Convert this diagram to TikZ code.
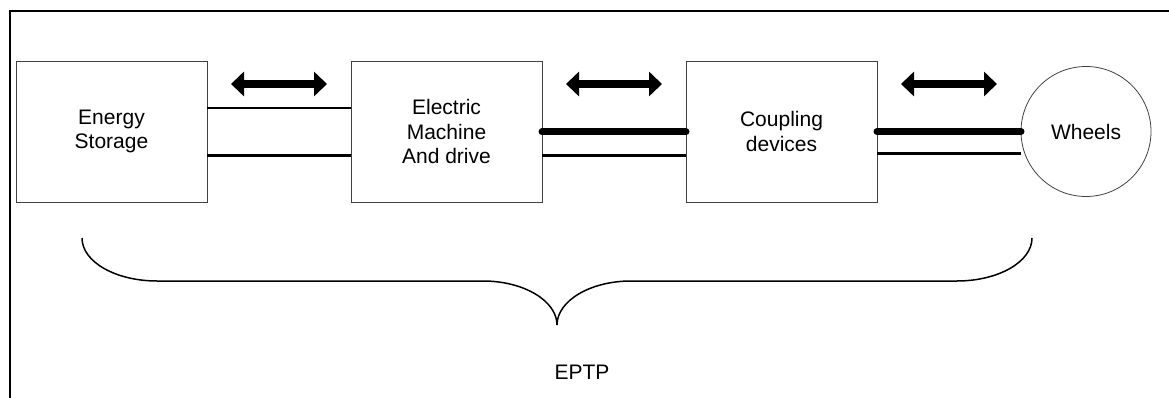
\documentclass[tikz,border=0pt]{standalone}
\usepackage{fontspec}
\setmainfont{Liberation Sans}
\usetikzlibrary{arrows.meta,positioning,calc}

\begin{document}
\begin{tikzpicture}[x=1pt, y=-1pt, font=\fontsize{21}{24.5}\selectfont, node distance=144pt]
  \tikzset{blk/.style={draw=black!75, line width=0.8pt, outer sep=0pt, minimum width=191pt, minimum height=141pt, align=center, inner sep=0pt},
    link/.style={line width=2.5pt},
    shaft/.style={line width=7pt, line cap=round},
    dbl/.style={line width=8pt, {Triangle[length=13pt,width=24pt]}-{Triangle[length=13pt,width=24pt]}}}
  \useasboundingbox (0,0) rectangle (1169,398);
  % frame
  \draw[line width=2pt] (10,398) -- (10,11) -- (1169,11);
  % chain of blocks
  \node[blk] (ES) at (111.5,131.5) {Energy\\ Storage};
  \node[blk, right=of ES] (EM) {Electric\\ Machine\\ And drive};
  \node[blk, right=of EM] (CD) {Coupling\\ devices};
  \node[draw=black!75, circle, line width=0.8pt, outer sep=0pt, minimum size=130pt, inner sep=0pt, right=of CD] (WH) {Wheels};
  % links
  \draw[link] ($(ES.east)+(0,-23.5)$) -- ($(EM.west)+(0,-23.5)$);
  \draw[link] ($(ES.east)+(0,24)$) -- ($(EM.west)+(0,24)$);
  \draw[shaft] ($(EM.east)+(0,0.5)$) -- ($(CD.west)+(0,0.5)$);
  \draw[link] ($(EM.east)+(0,24)$) -- ($(CD.west)+(0,24)$);
  \draw[shaft] (CD.east) -- (WH.west);
  \draw[link] ($(CD.east)+(0,22)$) -- (WH.west |- {$(CD.east)+(0,22)$});
  % power flow arrows
  \coordinate (A1) at ($(ES.east)!.5!(EM.west)+(0,-47.5)$);
  \coordinate (A2) at ($(EM.east)!.5!(CD.west)+(0,-47.5)$);
  \coordinate (A3) at ($(CD.east)!.5!(WH.west)+(0,-47.5)$);
  \draw[dbl] ($(A1)+(-48,0)$) -- ($(A1)+(48,0)$);
  \draw[dbl] ($(A2)+(-48,0)$) -- ($(A2)+(48,0)$);
  \draw[dbl] ($(A3)+(-48,0)$) -- ($(A3)+(48,0)$);
  % brace
  \draw[line width=1.5pt] (82,238) .. controls (82,262) and (116,281) .. (157,281) -- (483,281)
    .. controls (524,281) and (557,301) .. (557,325)
    .. controls (557,301) and (590,281) .. (631,281) -- (957,281)
    .. controls (998,281) and (1032,262) .. (1032,238);
  \node (EP) at (582,372) {EPTP};
\end{tikzpicture}
\end{document}
